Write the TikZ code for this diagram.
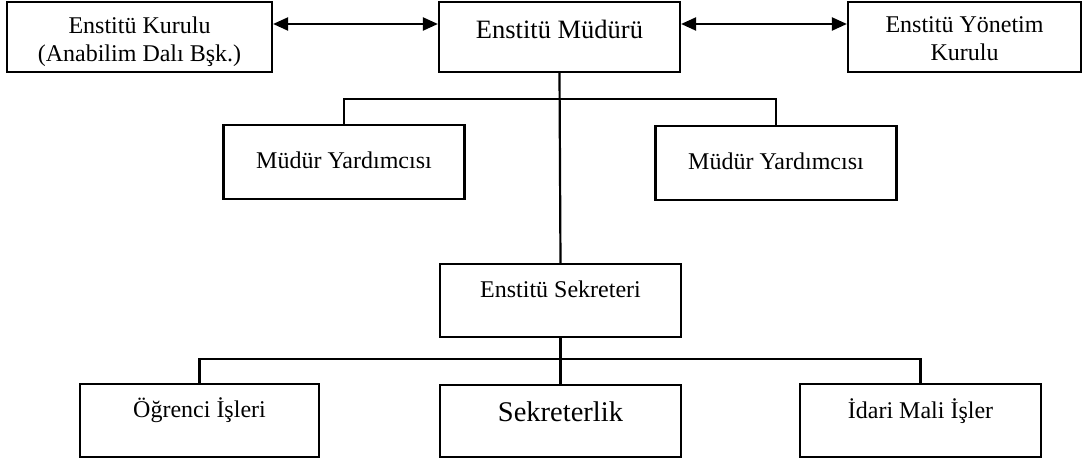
\documentclass[tikz,border=0pt]{standalone}
\usepackage{fontspec}
\setmainfont{Liberation Serif}
\usepackage{tikz}
\usetikzlibrary{arrows.meta}

\begin{document}
\begin{tikzpicture}[x=1bp,y=-1bp,line width=2.2bp]
    \tikzstyle{box}=[draw,rectangle,inner sep=0pt,minimum width=241bp,align=center,font=\fontsize{24bp}{28bp}\selectfont]
    \tikzstyle{both}=[{Triangle[length=15bp,width=13bp]}-{Triangle[length=15bp,width=13bp]}]
    \useasboundingbox (0,0) rectangle (1083,463);
    \node[box,minimum width=265bp,minimum height=70bp,text height=60bp,text depth=10bp] (kurul) at (139.5,37) {Enstitü Kurulu\\(Anabilim Dalı Bşk.)};
    \node[box,minimum height=70bp,text height=37bp,text depth=33bp,font=\fontsize{26.5bp}{30bp}\selectfont] (mudur) at (559.5,37) {Enstitü Müdürü};
    \node[box,minimum width=233bp,minimum height=70bp,text height=59bp,text depth=11bp] (yonetim) at (964.5,37) {Enstitü Yönetim\\Kurulu};
    \node[box,minimum height=74bp,text height=44bp,text depth=30bp] (yard_1) at (344,162) {Müdür Yardımcısı};
    \node[box,minimum height=74bp,text height=44bp,text depth=30bp] (yard_2) at (776,163) {Müdür Yardımcısı};
    \node[box,minimum height=73bp,text height=34bp,text depth=39bp] (sekreter) at (560.5,300.5) {Enstitü Sekreteri};
    \node[box,minimum width=239bp,minimum height=73bp,text height=34bp,text depth=39bp] (birim_1) at (199.5,420.5) {Öğrenci İşleri};
    \node[box,minimum height=72bp,text height=37bp,text depth=35bp,font=\fontsize{28.5bp}{32bp}\selectfont] (birim_2) at (560.5,421) {Sekreterlik};
    \node[box,minimum height=73bp,text height=35bp,text depth=38bp] (birim_3) at (920.5,420.5) {İdari Mali İşler};
    \draw[both] ([yshift=13bp]kurul.east) -- ([yshift=13bp]mudur.west);
    \draw[both] ([yshift=13bp]mudur.east) -- ([yshift=13bp]yonetim.west);
    \draw (mudur.south) -- (sekreter.north);
    \draw (yard_1.north) -- ++(0,-25) -| (yard_2.north);
    \draw (sekreter.south) -- (birim_2.north);
    \draw (birim_1.north) -- ++(0,-24) -| (birim_3.north);
\end{tikzpicture}
\end{document}
